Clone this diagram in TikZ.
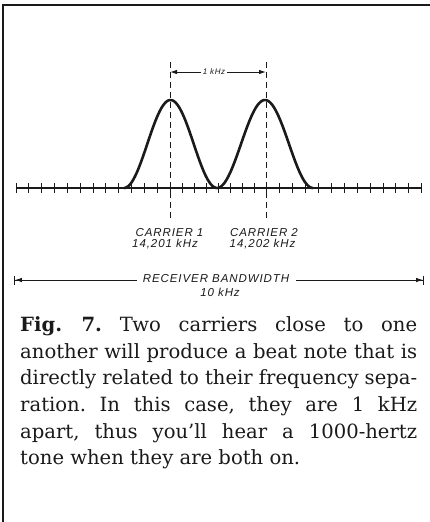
\documentclass[tikz,border=0pt]{standalone}
\usepackage{fontspec}
\setmainfont{DejaVu Serif}
\newfontfamily\lblfont[LetterSpace=8]{Liberation Sans}
\usetikzlibrary{arrows.meta}
\definecolor{ink}{HTML}{1A1A1A}
\tikzset{
  frameline/.style={line width=2pt, draw=ink},
  axisline/.style={line width=1.3pt, draw=ink},
  tickline/.style={line width=0.9pt, draw=ink},
  pulse/.style={line width=2.6pt, draw=ink, line join=round},
  guide/.style={line width=0.9pt, draw=ink, dash pattern=on 6pt off 4pt},
  dimline/.style={line width=0.9pt, draw=ink},
  lbl/.style={font=\lblfont\itshape\fontsize{11.5}{13}\selectfont, text=ink, inner sep=0pt, anchor=base},
  smalllbl/.style={font=\lblfont\itshape\fontsize{8}{9}\selectfont, text=ink, inner sep=1.5pt, fill=white},
}
\begin{document}
\begin{tikzpicture}[x=1pt, y=-1pt]
\useasboundingbox (0,0) rectangle (430,522);
\fill[white] (0,0) rectangle (430,522);
% frame
\draw[frameline] (3,522) -- (3,5) -- (430,5);
% axis
\coordinate (axL) at (16,188);
\coordinate (axR) at (422,188);
\draw[axisline] (axL) -- (axR);
\foreach \k in {0,...,12} {
  \pgfmathsetmacro{\tx}{16+12.833*\k}
  \draw[tickline] (\tx,183) -- (\tx,193);
}
\foreach \k in {1,...,7} {
  \pgfmathsetmacro{\tx}{170+12.0875*\k}
  \draw[tickline] (\tx,183) -- (\tx,193);
}
\foreach \k in {0,...,12} {
  \pgfmathsetmacro{\tx}{266.7+12.917*\k}
  \draw[tickline] (\tx,183) -- (\tx,193);
}
% guides
\coordinate (c1top) at (170,62);
\coordinate (c1bot) at (170,218);
\coordinate (c2top) at (266,62);
\coordinate (c2bot) at (266,218);
\draw[guide] (c1top) -- (c1bot);
\draw[guide] (c2top) -- (c2bot);
% pulses
\draw[pulse] plot[domain=124:217, samples=60, smooth] (\x,{188-44*(1+cos(180*(\x-170.5)/46.5))})
  -- plot[domain=217:313, samples=60, smooth] (\x,{188-44*(1+cos(180*(\x-265)/48))});
% 1 kHz dimension
\node[smalllbl] (khz) at (214,72) {1 kHz};
\coordinate (d1) at (170,72);
\coordinate (d2) at (266,72);
\draw[dimline, -{Latex[length=7pt,width=4.5pt]}] (khz.west) -- (d1);
\draw[dimline, -{Latex[length=7pt,width=4.5pt]}] (khz.east) -- (d2);
% carrier labels
\node[lbl] (car1) at (169.5,236) {CARRIER 1};
\node[lbl] (f1) at (165,247.5) {14,201 kHz};
\node[lbl] (car2) at (264,236) {CARRIER 2};
\node[lbl] (f2) at (262.5,247.5) {14,202 kHz};
% receiver bandwidth
\node[lbl] (rbw) at (216,282) {RECEIVER BANDWIDTH};
\node[lbl] (rbwv) at (220,296) {10 kHz};
\coordinate (bwL) at (14,280);
\coordinate (bwR) at (424,280);
\coordinate (bwLi) at (137,280);
\coordinate (bwRi) at (296,280);
\draw[dimline, -{Latex[length=7pt,width=4.5pt]Bar[width=9pt]}] (bwLi) -- (bwL);
\draw[dimline, -{Latex[length=7pt,width=4.5pt]Bar[width=9pt]}] (bwRi) -- (bwR);
% caption
\node[anchor=base west, inner sep=0pt, text=ink, font=\fontsize{19.6}{26.6}\selectfont] (cap) at (20,331.7) {\frenchspacing\vtop{\baselineskip=26.6pt\lineskiplimit=-20pt
\hbox to 397pt{\textbf{Fig. 7.} Two carriers close to one}
\hbox to 397pt{another will produce a beat note that is}
\hbox to 397pt{directly related to their frequency sepa-}
\hbox to 397pt{ration. In this case, they are 1 kHz}
\hbox to 397pt{apart, thus you’ll hear a 1000-hertz}
\hbox{tone when they are both on.}}};
\end{tikzpicture}
\end{document}
